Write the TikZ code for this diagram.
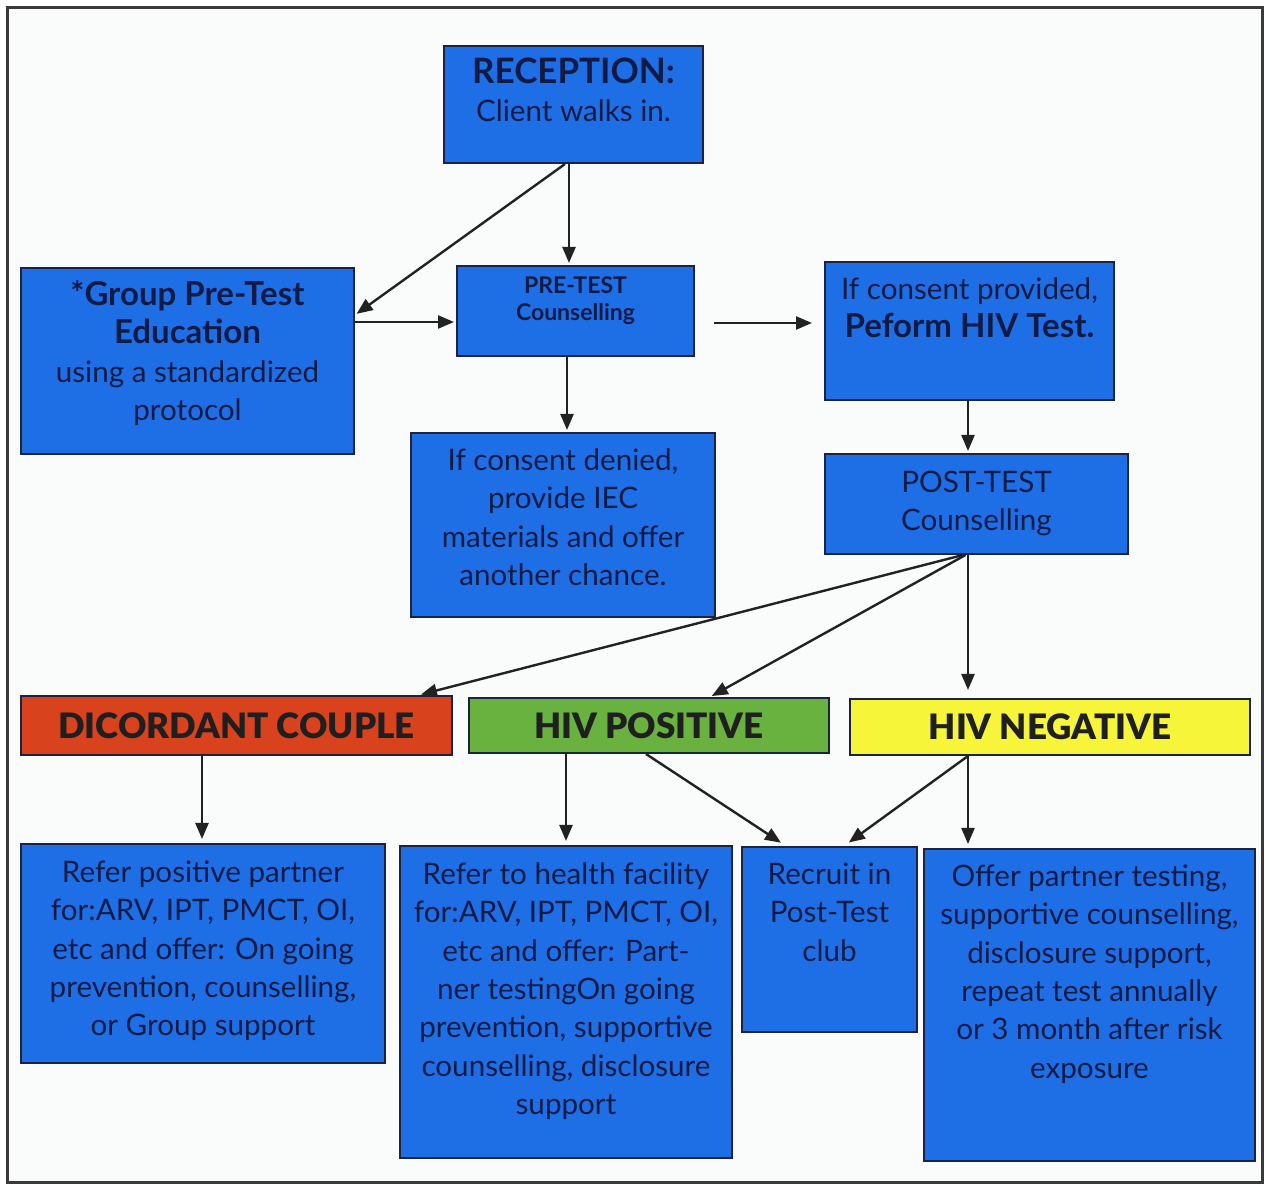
\documentclass[tikz,border=0pt]{standalone}
\usepackage{fontspec}
\setmainfont{Lato}
\IfFontExistsTF{Lato Black}{\newfontfamily\heavyfont{Lato Black}}{\newcommand\heavyfont{\bfseries}}
\usetikzlibrary{arrows.meta}
\definecolor{boxblue}{HTML}{1E6EE6}
\definecolor{boxline}{HTML}{1C2340}
\definecolor{navy}{HTML}{101B45}
\definecolor{redbox}{HTML}{D8431E}
\definecolor{greenbox}{HTML}{6AB23F}
\definecolor{yellowbox}{HTML}{F6F53A}
\definecolor{bgtint}{HTML}{FAFCFB}
\definecolor{framecol}{HTML}{3A3A3A}
\definecolor{arrcol}{HTML}{222222}
\newcommand\bigb[1]{{\bfseries\fontsize{16.5}{19.2}\selectfont #1}}
\newcommand\fl{\rule{0pt}{13pt}}
\begin{document}
\begin{tikzpicture}[x=0.5pt,y=-0.5pt,
  box/.style={draw=boxline, line width=1pt, fill=boxblue, anchor=north west, inner sep=0pt},
  txt/.style={anchor=north, align=center, text=navy, inner sep=0pt, font=\fontsize{14.8}{19.2}\selectfont},
  smalltxt/.style={anchor=north, align=center, text=navy, inner sep=0pt, font=\bfseries\fontsize{11.5}{13.5}\selectfont},
  hdr/.style={draw=boxline, line width=1pt, anchor=north west, inner sep=0pt, text=black!88, font=\heavyfont\fontsize{17.5}{19}\selectfont},
  arr/.style={draw=arrcol, line width=1.2pt, -{Triangle[length=8pt,width=6.5pt]}, shorten >=1pt}]
\useasboundingbox (0,0) rectangle (1265,1186);
\fill[white] (0,0) rectangle (1265,1186);
\draw[framecol, line width=1.5pt, fill=bgtint] (7,8) rectangle (1262,1183);

% boxes
\node[box, minimum width=129.5pt, minimum height=58.5pt] (rec) at (443,45) {};
\node[box, minimum width=166.5pt, minimum height=93pt] (grp) at (20,267) {};
\node[box, minimum width=118.5pt, minimum height=45pt] (pre) at (456,265) {};
\node[box, minimum width=144.5pt, minimum height=69pt] (cprov) at (824,261) {};
\node[box, minimum width=152pt, minimum height=92pt] (cden) at (410,432) {};
\node[box, minimum width=151.5pt, minimum height=50pt] (post) at (824,453) {};
\node[hdr, fill=redbox, minimum width=215.5pt, minimum height=29.5pt] (dic) at (20,695) {DICORDANT COUPLE};
\node[hdr, fill=greenbox, minimum width=180pt, minimum height=27.5pt] (pos) at (468,697) {HIV POSITIVE};
\node[hdr, fill=yellowbox, minimum width=200pt, minimum height=28pt] (neg) at (849,698) {HIV NEGATIVE};
\node[box, minimum width=182pt, minimum height=109.5pt] (refp) at (20,843) {};
\node[box, minimum width=166pt, minimum height=156pt] (refh) at (399,845) {};
\node[box, minimum width=87.5pt, minimum height=92.5pt] (recr) at (741,846) {};
\node[box, minimum width=165.5pt, minimum height=156pt] (offer) at (923,848) {};

% texts (first baseline about 19pt below the box top)
\node[txt] (rec-t) at ([yshift=-6pt]rec.north) {\fl{\bfseries\fontsize{17.5}{19.2}\selectfont RECEPTION:}\\Client walks in.};
\node[txt] (grp-t) at ([yshift=-6pt]grp.north) {\fl\bigb{*Group Pre-Test}\\\bigb{Education}\\using a standardized\\protocol};
\node[smalltxt] (pre-t) at ([yshift=-1.25pt]pre.north) {\fl PRE-TEST\\Counselling};
\node[txt] (cprov-t) at ([yshift=-6pt]cprov.north) {\fl If consent provided,\\\bigb{Peform HIV Test.}};
\node[txt] (cden-t) at ([yshift=-6pt]cden.north) {\fl If consent denied,\\provide IEC\\materials and offer\\another chance.};
\node[txt] (post-t) at ([yshift=-6.5pt]post.north) {\fl POST-TEST\\Counselling};
\node[txt] (refp-t) at ([yshift=-6.5pt]refp.north) {\fl Refer positive partner\\for:ARV, IPT, PMCT, OI,\\etc and offer: On going\\prevention, counselling,\\or Group support};
\node[txt] (refh-t) at ([yshift=-6.5pt]refh.north) {\fl Refer to health facility\\for:ARV, IPT, PMCT, OI,\\etc and offer: Part-\\ner testingOn going\\prevention, supportive\\counselling, disclosure\\support};
\node[txt] (recr-t) at ([yshift=-6pt]recr.north) {\fl Recruit in\\Post-Test\\club};
\node[txt] (offer-t) at ([yshift=-6pt]offer.north) {\fl Offer partner testing,\\supportive counselling,\\disclosure support,\\repeat test annually\\or 3 month after risk\\exposure};

% connectors
\draw[arr] ([xshift=-2.25pt]rec.south) -- ([xshift=-2.25pt]rec.south |- pre.north);
\draw[arr] ([xshift=-4.25pt]rec.south) -- ([yshift=23pt]grp.east);
\draw[arr] ([yshift=19.5pt]grp.east) -- ([yshift=19.5pt]grp.east -| pre.west);
\draw[arr, shorten <=9.5pt, shorten >=6pt] ([yshift=-6pt]pre.east) -- ([yshift=-6pt]pre.east -| cprov.west);
\draw[arr] ([xshift=-4.25pt]pre.south) -- ([xshift=-4.25pt]pre.south |- cden.north);
\draw[arr] ([xshift=-0.75pt]cprov.south) -- ([xshift=-0.75pt]cprov.south |- post.north);
\draw[arr] ([xshift=-6.75pt]post.south) -- ([xshift=91.25pt]dic.north);
\draw[arr] ([xshift=-5.5pt]post.south) -- ([xshift=30.5pt]pos.north);
\draw[arr, shorten >=4pt] ([xshift=-4.25pt]post.south) -- ([xshift=-4.25pt]post.south |- neg.north);
\draw[arr, shorten >=2pt] ([xshift=-17.25pt]dic.south) -- ([xshift=-17.25pt]dic.south |- refp.north);
\draw[arr, shorten >=2pt] ([xshift=-41.5pt]pos.south) -- ([xshift=-41.5pt]pos.south |- refh.north);
\draw[arr, shorten >=3pt] ([xshift=-1.5pt]pos.south) -- ([xshift=-21.75pt]recr.north);
\draw[arr, shorten >=3pt] ([xshift=-41pt]neg.south) -- ([xshift=7.25pt]recr.north);
\draw[arr, shorten >=2pt] ([xshift=-41pt]neg.south) -- ([xshift=-41pt]neg.south |- offer.north);
\end{tikzpicture}
\end{document}
